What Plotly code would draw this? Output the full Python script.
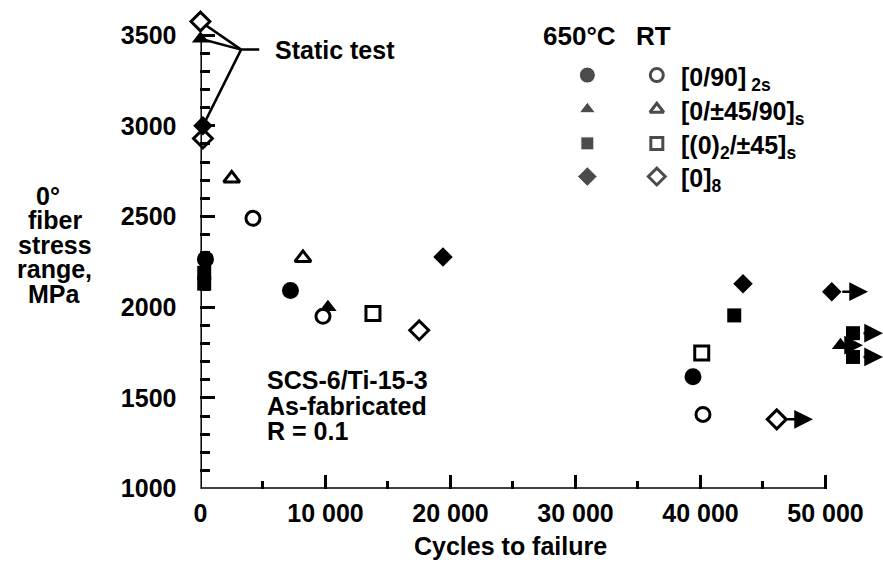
import plotly.graph_objects as go

# ---------------- data (cycles to failure, 0° fiber stress range MPa) ----------------
fc_x = [400, 7200, 39400]            # 650°C [0/90]2s
fc_y = [2265, 2092, 1617]
oc_x = [4200, 9800, 40200]           # RT [0/90]2s
oc_y = [2490, 1950, 1409]
ft_x = [0, 10200, 51200]             # 650°C [0/±45/90]s
ft_y = [3480, 2000, 1791]
ft_run = [False, False, True]
ot_x = [2500, 8200]                  # RT [0/±45/90]s
ot_y = [2710, 2272]
fs_x = [300, 300, 42700, 52200, 52200]   # 650°C [(0)2/±45]s
fs_y = [2190, 2130, 1955, 1857, 1726]
fs_run = [False, False, False, True, True]
os_x = [13800, 40100]                # RT [(0)2/±45]s
os_y = [1966, 1748]
fd_x = [200, 19400, 43400, 50500]    # 650°C [0]8
fd_y = [3000, 2277, 2130, 2086]
fd_run = [False, False, False, True]
od_x = [0, 200, 17500, 46100]        # RT [0]8
od_y = [3575, 2930, 1873, 1382]
od_run = [False, False, False, True]

static_x = [od_x[0], ft_x[0], fd_x[0]]
static_y = [od_y[0], ft_y[0], fd_y[0]]
static_label_xy = (3250, 3420)

x_ticks = [0, 10000, 20000, 30000, 40000, 50000]
x_ticktext = ["0", "10 000", "20 000", "30 000", "40 000", "50 000"]
x_minor = [5000, 15000, 25000, 35000, 45000]
y_ticks = [1000, 1500, 2000, 2500, 3000, 3500]
y_minor = [v for v in range(1100, 3500, 100) if v % 500]

legend_labels = ["[0/90]<sub> 2s</sub>", "[0/±45/90]<sub>s</sub>",
                 "[(0)<sub>2</sub>/±45]<sub>s</sub>", "[0]<sub>8</sub>"]
ytitle_lines = ["0°", "fiber", "stress", "range,", "MPa"]
note_lines = ["SCS-6/Ti-15-3", "As-fabricated", "R = 0.1"]

# ---------------- layout constants ----------------
W, H = 883, 569
FONT = "Liberation Sans, Arial, sans-serif"
X_LEFT_PX = 195
Y_BOT_PX = 501
X_MAX = 54600
Y_MAX = 3640
PX_PER_MPA = 0.186
y_top_px = Y_BOT_PX - (Y_MAX - 1000) * PX_PER_MPA

def fx(px):
    return px / W

def fy(py):
    return 1 - py / H

def tfont(size):
    return dict(family=FONT, size=size, color="black", weight="bold")

fig = go.Figure()

def add_series(xs, ys, symbol, size, filled):
    if filled:
        marker = dict(symbol=symbol, size=size, color="black", line=dict(width=0))
    else:
        marker = dict(symbol=symbol, size=size, color="white",
                      line=dict(color="black", width=3))
    fig.add_trace(go.Scatter(x=xs, y=ys, mode="markers", marker=marker,
                             cliponaxis=False, showlegend=False, hoverinfo="skip"))

# open markers first, filled on top
add_series(oc_x, oc_y, "circle", 14, False)
add_series(ot_x, ot_y, "triangle-up", 14, False)
add_series(os_x, os_y, "square", 14, False)
add_series(od_x, od_y, "diamond", 14.5, False)
add_series(fc_x, fc_y, "circle", 17, True)
add_series(ft_x, ft_y, "triangle-up", 15, True)
add_series(fs_x, fs_y, "square", 14, True)
add_series(fd_x, fd_y, "diamond", 15, True)

annotations = []
shapes = []

# run-out arrows
for xs, ys, runs, length in [(ft_x, ft_y, ft_run, 1800), (fs_x, fs_y, fs_run, 2400),
                              (fd_x, fd_y, fd_run, 2900), (od_x, od_y, od_run, 2900)]:
    for x, y, r in zip(xs, ys, runs):
        if r:
            annotations.append(dict(x=x + length, y=y, ax=x, ay=y, xref="x", yref="y",
                                    axref="x", ayref="y", text="", showarrow=True,
                                    arrowhead=2, arrowsize=1.5, arrowwidth=2.5,
                                    arrowcolor="black", startstandoff=9))

# axis lines
shapes.append(dict(type="line", xref="x", yref="y", x0=0, x1=x_ticks[-1], y0=1000, y1=1000,
                   line=dict(color="black", width=3)))
shapes.append(dict(type="line", xref="x", yref="y", x0=0, x1=0, y0=1000, y1=y_ticks[-1],
                   line=dict(color="black", width=3)))

# static test leader lines
jx, jy = static_label_xy
for sx, sy in zip(static_x, static_y):
    shapes.append(dict(type="line", xref="x", yref="y", x0=jx, y0=jy, x1=sx, y1=sy,
                       layer="below", line=dict(color="black", width=2.5)))
shapes.append(dict(type="line", xref="x", yref="y", x0=jx, y0=jy, x1=jx + 1450, y1=jy,
                   layer="below", line=dict(color="black", width=2.5)))
annotations.append(dict(x=jx + 2550, y=jy, xref="x", yref="y", text="Static test",
                        showarrow=False, xanchor="left", yanchor="middle", font=tfont(25)))

# y title (lines)
for i, line in enumerate(ytitle_lines):
    annotations.append(dict(x=fx(41 if i == 0 else 48), y=fy(201 + 25 * i), xref="paper",
                            yref="paper", text=line, showarrow=False, xanchor="center",
                            yanchor="middle", font=tfont(25)))

# note text
for i, line in enumerate(note_lines):
    annotations.append(dict(x=fx(260), y=fy(390 + 26 * i), xref="paper", yref="paper",
                            text=line, showarrow=False, xanchor="left", yanchor="middle",
                            font=tfont(25)))

# x title
annotations.append(dict(x=fx(508), y=fy(560), xref="paper", yref="paper",
                        text="Cycles to failure", showarrow=False, xanchor="center",
                        yanchor="middle", font=tfont(25)))

# legend
leg_rows = [77, 112, 147, 181]
leg_filled_x, leg_open_x, leg_text_x = 585, 655, 677
annotations.append(dict(x=fx(leg_filled_x - 8), y=fy(37), xref="paper", yref="paper",
                        text="650°C", showarrow=False, xanchor="center", yanchor="middle",
                        font=tfont(26)))
annotations.append(dict(x=fx(leg_open_x - 3), y=fy(37), xref="paper", yref="paper",
                        text="RT", showarrow=False, xanchor="center", yanchor="middle",
                        font=tfont(26)))
for lab, row in zip(legend_labels, leg_rows):
    annotations.append(dict(x=fx(leg_text_x), y=fy(row + 4), xref="paper", yref="paper",
                            text=lab, showarrow=False, xanchor="left", yanchor="middle",
                            font=tfont(25)))

leg_symbols = ["circle", "triangle-up", "square", "diamond"]
leg_fsize = [16, 14, 13, 15]
leg_osize = [13, 12, 12, 13]
fig.add_trace(go.Scatter(x=[leg_filled_x] * 4, y=leg_rows, xaxis="x2", yaxis="y2",
                         mode="markers", showlegend=False, hoverinfo="skip", cliponaxis=False,
                         marker=dict(symbol=leg_symbols, size=leg_fsize, color="black")))
fig.add_trace(go.Scatter(x=[leg_open_x] * 4, y=leg_rows, xaxis="x2", yaxis="y2",
                         mode="markers", showlegend=False, hoverinfo="skip", cliponaxis=False,
                         marker=dict(symbol=leg_symbols, size=leg_osize, color="white",
                                     line=dict(color="black", width=3))))

fig.update_layout(
    width=W, height=H, margin=dict(l=0, r=0, t=0, b=0),
    paper_bgcolor="white", plot_bgcolor="rgba(0,0,0,0)",
    showlegend=False,
    xaxis=dict(domain=[fx(X_LEFT_PX), 1], range=[0, X_MAX], showgrid=False, zeroline=False,
               showline=False, tickmode="array", tickvals=x_ticks, ticktext=x_ticktext,
               ticks="inside", ticklen=14, tickwidth=2.5, tickcolor="black",
               tickfont=tfont(25), ticklabelstandoff=7,
               minor=dict(tickmode="array", tickvals=x_minor, ticks="inside", ticklen=8,
                          tickwidth=2.5, tickcolor="black", showgrid=False)),
    yaxis=dict(domain=[fy(Y_BOT_PX), fy(y_top_px)], range=[1000, Y_MAX], showgrid=False,
               zeroline=False, showline=False, tickmode="array", tickvals=y_ticks,
               ticks="inside", ticklen=15, tickwidth=2.5, tickcolor="black",
               tickfont=tfont(25), ticklabelstandoff=23,
               minor=dict(tickmode="array", tickvals=y_minor, ticks="inside", ticklen=10,
                          tickwidth=2.5, tickcolor="black", showgrid=False)),
    xaxis2=dict(domain=[0, 1], range=[0, W], visible=False, anchor="y2"),
    yaxis2=dict(domain=[0, 1], range=[H, 0], visible=False, anchor="x2"),
    annotations=annotations, shapes=shapes,
)

fig.write_html("out.html")
